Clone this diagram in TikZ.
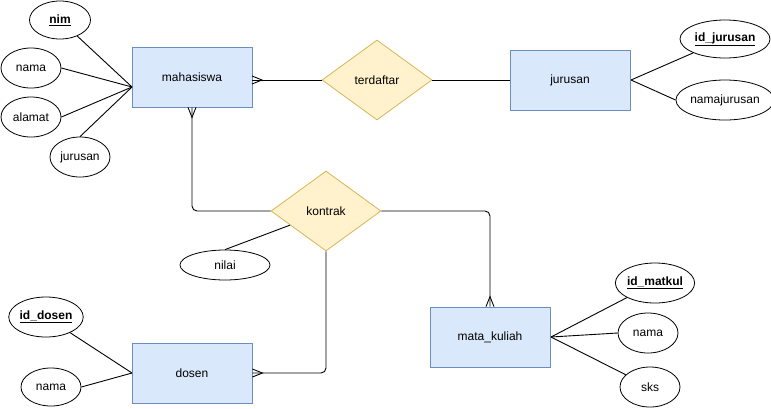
\documentclass[tikz,border=0pt]{standalone}
\usepackage{fontspec}
\setmainfont{Liberation Sans}
\usetikzlibrary{shapes.geometric,calc}
\definecolor{entfill}{HTML}{DAE8FC}
\definecolor{entdraw}{HTML}{6C8EBF}
\definecolor{relfill}{HTML}{FFF2CC}
\definecolor{reldraw}{HTML}{D6B656}
\begin{document}
\begin{tikzpicture}[x=1pt,y=-1pt,
  every node/.style={font=\fontsize{12}{14}\selectfont, inner sep=0pt},
  entity/.style={rectangle, draw=entdraw, fill=entfill, line width=0.8pt, minimum width=120pt, minimum height=60pt},
  rel/.style={diamond, draw=reldraw, fill=relfill, line width=0.8pt, minimum width=110pt, minimum height=80pt},
  attr/.style={ellipse, draw=black, line width=0.8pt, minimum width=#1, minimum height=40pt},
  attr/.default=60pt,
  conn/.style={draw=black, line width=0.9pt},
  elbow/.style={conn, rounded corners=5pt}
]
\useasboundingbox (0,0) rectangle (771,408);

% entities
\node[entity] (m) at (192,77) {mahasiswa};
\node[entity] (j) at (570,80) {jurusan};
\node[entity] (d) at (192,373) {dosen};
\node[entity] (mk) at (490,337) {mata\_kuliah};

% relationships
\node[rel] (t) at (377,80) {terdaftar};
\node[rel] (k) at (326,211) {kontrak};

% attributes of mahasiswa
\node[attr=61pt, minimum height=38pt] (nim) at (60,20) {\underline{\textbf{nim}}};
\node[attr] (mnama) at (31,68) {nama};
\node[attr] (alamat) at (31,117) {alamat};
\node[attr] (mjur) at (80,157) {jurusan};
\coordinate (mc) at (132,87);
\draw[conn] (nim) -- (mc);
\draw[conn] (mnama.east) -- (mc);
\draw[conn] (alamat.east) -- (mc);
\draw[conn] (mjur.north) -- (mc);

% attributes of jurusan
\node[attr=90pt, minimum height=38pt] (idj) at (725,39) {\underline{\textbf{id\_jurusan}}};
\node[attr=90pt] (nj) at (725,100) {namajurusan};
\coordinate (jc) at (631,80);
\draw[conn] (idj) -- (jc);
\draw[conn] (nj.west) -- (jc);

% attributes of dosen
\node[attr=72pt] (idd) at (46,317) {\underline{\textbf{id\_dosen}}};
\node[attr, minimum height=38pt] (dn) at (51,387) {nama};
\coordinate (dc) at (132,373);
\draw[conn] (idd) -- (dc);
\draw[conn] (dn.east) -- (dc);

% attributes of mata_kuliah
\node[attr=70pt] (idm) at (655,283) {\underline{\textbf{id\_matkul}}};
\node[attr] (mkn) at (648,333) {nama};
\node[attr] (sks) at (650,387) {sks};
\coordinate (mkc) at (551,337);
\draw[conn] (idm) -- (mkc);
\draw[conn] (mkn.west) -- (mkc);
\draw[conn] (sks) -- (mkc);

% nilai
\node[attr=90pt, minimum height=30pt] (nilai) at (225,265) {nilai};
\draw[conn] (nilai.north) -- ($(k.west)!0.35!(k.south)$);

% mahasiswa - terdaftar - jurusan
\coordinate (mR) at (252,80);
\draw[conn] (mR) -- (t.west);
\draw[conn] ($(mR)+(0,-4)$) -- ($(mR)+(10,0)$) -- ($(mR)+(0,4)$);
\draw[conn] (t.east) -- (j.west |- t.east);

% mahasiswa - kontrak
\draw[elbow] (m.south) |- (k.west);
\draw[conn] ($(m.south)+(-4,0)$) -- ($(m.south)+(0,10)$) -- ($(m.south)+(4,0)$);

% kontrak - mata_kuliah
\draw[elbow] (k.east) -| (mk.north);
\draw[conn] ($(mk.north)+(-4,0)$) -- ($(mk.north)+(0,-10)$) -- ($(mk.north)+(4,0)$);

% kontrak - dosen
\draw[elbow] (k.south) |- (d.east);
\draw[conn] ($(d.east)+(0,-4)$) -- ($(d.east)+(10,0)$) -- ($(d.east)+(0,4)$);
\end{tikzpicture}
\end{document}
